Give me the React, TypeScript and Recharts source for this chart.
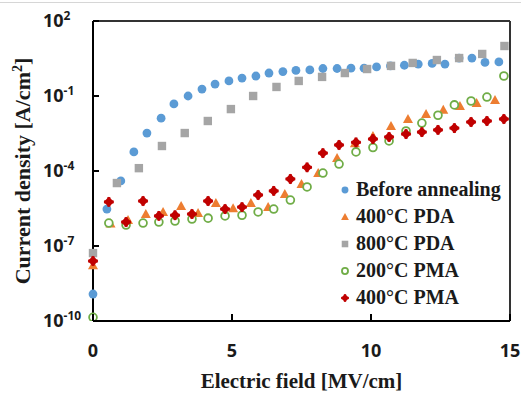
import React from "react";
import { ScatterChart, XAxis, YAxis, Scatter, ReferenceLine, Legend } from "recharts";

// values (x in MV/cm, J in A/cm^2)
const beforeX = [0, 0.5, 1.0, 1.47, 1.94, 2.45, 2.91, 3.42, 3.92, 4.39, 4.89, 5.36, 5.86, 6.33, 6.83, 7.3, 7.8, 8.27, 8.78, 9.28, 9.75, 10.2, 10.7, 11.2, 11.7, 12.2, 12.66, 13.17, 13.63, 14.1, 14.6];
const beforeJ = [1.2e-9, 3.0e-6, 4.0e-5, 5.8e-4, 3.3e-3, 1.3e-2, 4.8e-2, 0.1, 0.19, 0.3, 0.4, 0.52, 0.63, 0.83, 0.95, 1.05, 1.1, 1.26, 1.26, 1.3, 1.3, 1.45, 1.6, 1.7, 1.9, 2.0, 1.9, 3.3, 3.3, 2.2, 2.3];

const pda400X = [0, 0.63, 1.26, 1.9, 2.52, 3.17, 3.78, 4.42, 5.04, 5.68, 6.3, 6.9, 7.5, 8.1, 8.78, 9.42, 10.07, 10.72, 11.33, 11.98, 12.6, 13.2, 13.8, 14.46];
const pda400J = [1.7e-8, 7.9e-7, 1.1e-6, 1.9e-6, 2.3e-6, 4.0e-6, 2.1e-6, 5.2e-6, 3.2e-6, 5.2e-6, 3.6e-6, 1.2e-5, 3.0e-5, 8.3e-5, 3.3e-4, 1.3e-3, 2.5e-3, 6.3e-3, 1.2e-2, 1.9e-2, 2.8e-2, 4.0e-2, 5.2e-2, 6.9e-2];

const pda800X = [0, 0.86, 1.65, 2.48, 3.3, 4.13, 4.96, 5.76, 6.6, 7.4, 8.24, 9.06, 9.86, 10.72, 11.5, 12.37, 13.17, 14.0, 14.8];
const pda800J = [5.2e-8, 3.3e-5, 1.3e-4, 1.0e-3, 3.3e-3, 1.0e-2, 3.0e-2, 0.1, 0.23, 0.4, 0.58, 0.83, 1.2, 1.6, 2.1, 2.75, 3.3, 4.8, 10];

const pmaX = [0, 0.57, 1.19, 1.8, 2.37, 2.95, 3.56, 4.14, 4.75, 5.36, 5.94, 6.5, 7.1, 7.7, 8.27, 8.85, 9.46, 10.07, 10.65, 11.26, 11.83, 12.41, 13.0, 13.6, 14.17, 14.78];
const pma200J = [1.4e-10, 8.3e-7, 6.9e-7, 8.3e-7, 9.1e-7, 1.0e-6, 1.2e-6, 1.3e-6, 1.6e-6, 1.7e-6, 2.3e-6, 3.0e-6, 6.9e-6, 2.3e-5, 8.3e-5, 1.9e-4, 5.8e-4, 8.7e-4, 1.6e-3, 4.0e-3, 8.3e-3, 1.7e-2, 4.4e-2, 6.3e-2, 9.1e-2, 0.63];
const pma400J = [2.5e-8, 5.8e-6, 9.1e-7, 6.3e-6, 1.6e-6, 1.7e-6, 1.9e-6, 6.3e-6, 3.0e-6, 3.6e-6, 1.1e-5, 1.6e-5, 4.8e-5, 1.4e-4, 5.2e-4, 1.1e-3, 1.4e-3, 1.9e-3, 2.3e-3, 3.0e-3, 3.6e-3, 4.4e-3, 5.2e-3, 9.1e-3, 1.0e-2, 1.2e-2];

const xTicks = [0, 5, 10, 15];
const yTicks = [1e-10, 1e-7, 1e-4, 1e-1, 1e2];

const zip = (xs: number[], ys: number[]) => xs.map((x, i) => ({ x, y: ys[i] }));

const BLUE = "#5B9BD5";
const ORANGE = "#ED7D31";
const GRAY = "#A5A5A5";
const GREEN = "#70AD47";
const RED = "#C00000";
const TXT = "#1a1a1a";
const SANS = "'Open Sans', 'Noto Sans', sans-serif";
const SERIF = "'Liberation Serif', 'Times New Roman', serif";

const mark = (kind: string, cx: number, cy: number, s = 1) => {
  switch (kind) {
    case "circle":
      return <circle cx={cx} cy={cy} r={4.4 * s} fill={BLUE} />;
    case "triangle":
      return <polygon points={`${cx},${cy - 5 * s} ${cx + 5 * s},${cy + 4 * s} ${cx - 5 * s},${cy + 4 * s}`} fill={ORANGE} />;
    case "square":
      return <rect x={cx - 4.2 * s} y={cy - 4.2 * s} width={8.4 * s} height={8.4 * s} fill={GRAY} />;
    case "ring":
      return <circle cx={cx} cy={cy} r={3.9 * s} fill="#fff" stroke={GREEN} strokeWidth={1.8} />;
    default:
      return (
        <g fill={RED}>
          <polygon points={`${cx},${cy - 5.2 * s} ${cx + 5.2 * s},${cy} ${cx},${cy + 5.2 * s} ${cx - 5.2 * s},${cy}`} />
          <rect x={cx - 1.5 * s} y={cy - 4.8 * s} width={3 * s} height={9.6 * s} />
          <rect x={cx - 4.8 * s} y={cy - 1.5 * s} width={9.6 * s} height={3 * s} />
        </g>
      );
  }
};

const series = [
  { name: "Before annealing", kind: "circle", data: zip(beforeX, beforeJ) },
  { name: "400°C PDA", kind: "triangle", data: zip(pda400X, pda400J) },
  { name: "800°C PDA", kind: "square", data: zip(pda800X, pda800J) },
  { name: "200°C PMA", kind: "ring", data: zip(pmaX, pma200J) },
  { name: "400°C PMA", kind: "diamond", data: zip(pmaX, pma400J) },
];

const YTick = (props: any) => {
  const { x, y, payload } = props;
  const exp = Math.round(Math.log10(payload.value));
  return (
    <g>
      <line x1={x} x2={x + 6} y1={y} y2={y} stroke="#000" strokeWidth={2} />
      <text x={x - 50} y={y} dy="0.36em" textAnchor="start" fontFamily={SANS} fontWeight={700} fontSize={18} fill={TXT}>
        10
        <tspan dy={-7} fontSize={12}>{exp}</tspan>
      </text>
    </g>
  );
};

const XTick = (props: any) => {
  const { x, y, payload } = props;
  return (
    <g>
      <line x1={x} x2={x} y1={y} y2={y - 7} stroke="#000" strokeWidth={2} />
      <text x={x} y={y + 30} dy="0.36em" textAnchor="middle" fontFamily={SANS} fontWeight={700} fontSize={18} fill={TXT}>
        {payload.value}
      </text>
    </g>
  );
};

const LegendBox = () => (
  <div style={{ fontFamily: SERIF, fontWeight: 700, fontSize: 20, color: TXT }}>
    {series.map((s) => (
      <div key={s.name} style={{ display: "flex", alignItems: "center", height: 27, whiteSpace: "nowrap" }}>
        <svg width={14} height={14} style={{ marginRight: 4 }}>
          {mark(s.kind, 7, 7, 0.78)}
        </svg>
        <span>{s.name}</span>
      </div>
    ))}
  </div>
);

export default function App() {
  return (
    <div style={{ position: "absolute", left: 0, top: 0, width: 521, height: 394, background: "#fff" }}>
      <div style={{ position: "absolute", left: 0, top: 2, width: 521, height: 1, background: "#d6d6d6" }} />
      <ScatterChart width={521} height={394} margin={{ top: 21, right: 11, bottom: 0, left: 0 }}>
        <XAxis
          type="number"
          dataKey="x"
          domain={[0, 15]}
          ticks={xTicks}
          height={73}
          tickSize={0}
          tickMargin={0}
          tickLine={false}
          axisLine={{ stroke: "#000", strokeWidth: 2 }}
          tick={<XTick />}
          label={{
            content: ({ viewBox }: any) => (
              <text x={viewBox.x + viewBox.width / 2} y={388} textAnchor="middle" fontFamily={SERIF} fontWeight={700} fontSize={21} fill={TXT}>
                Electric field [MV/cm]
              </text>
            ),
          }}
        />
        <YAxis
          type="number"
          dataKey="y"
          scale="log"
          domain={[1e-10, 100]}
          allowDataOverflow
          ticks={yTicks}
          width={93}
          tickSize={0}
          tickMargin={0}
          tickLine={false}
          axisLine={{ stroke: "#000", strokeWidth: 2 }}
          tick={<YTick />}
          label={{
            content: ({ viewBox }: any) => {
              const cy = viewBox.y + viewBox.height / 2;
              return (
                <text x={30} y={cy} transform={`rotate(-90 30 ${cy})`} textAnchor="middle" fontFamily={SERIF} fontWeight={700} fontSize={22} fill={TXT}>
                  Current density [A/cm
                  <tspan dy={-8} fontSize={14}>2</tspan>
                  <tspan dy={8}>]</tspan>
                </text>
              );
            },
          }}
        />
        <ReferenceLine y={100} stroke="#333" strokeWidth={2} />
        <ReferenceLine x={15} stroke="#333" strokeWidth={2} />
        {series.map((s) => (
          <Scatter
            key={s.name}
            name={s.name}
            data={s.data}
            isAnimationActive={false}
            shape={(p: any) => mark(s.kind, p.cx, p.cy)}
          />
        ))}
        <Legend
          layout="vertical"
          align="center"
          verticalAlign="middle"
          content={<LegendBox />}
          wrapperStyle={{ left: 338, top: 176, width: 180 }}
        />
      </ScatterChart>
    </div>
  );
}
